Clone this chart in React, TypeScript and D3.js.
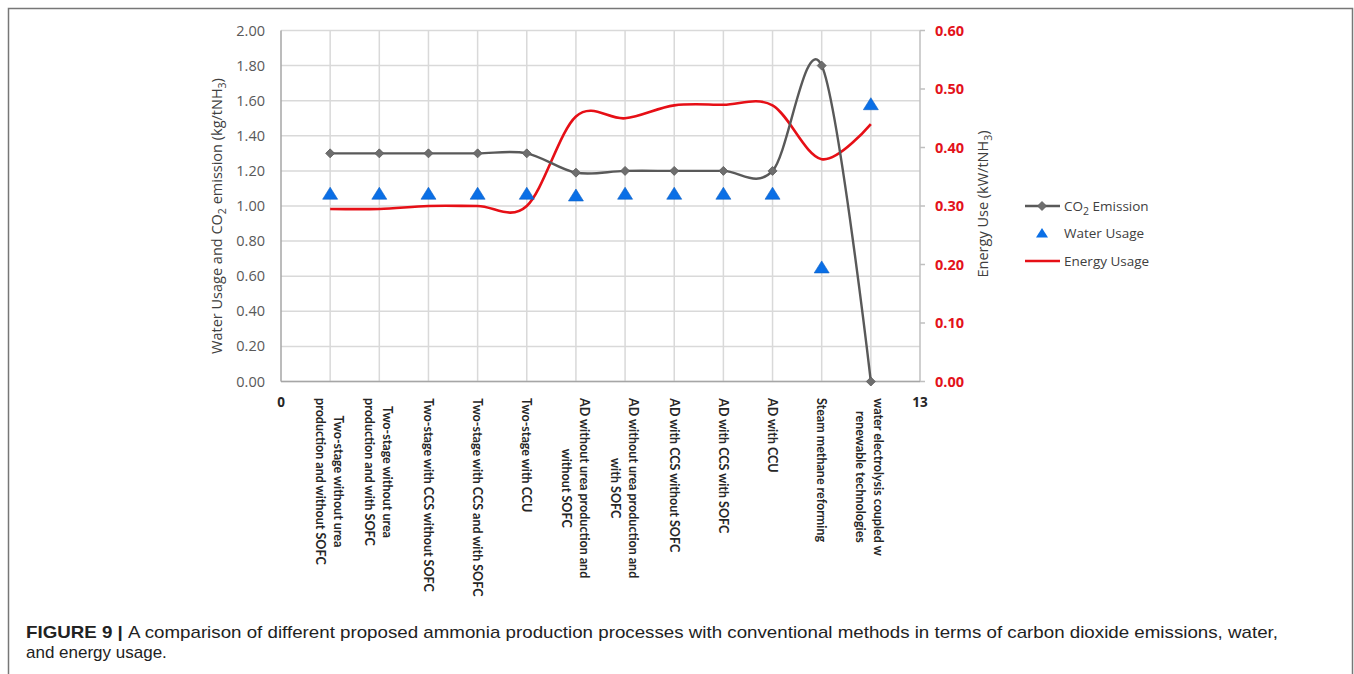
import React from "react";
import * as d3 from "d3";

const categories: string[] = [
  "Two-stage without urea\nproduction and without SOFC",
  "Two-stage without urea\nproduction and with SOFC",
  "Two-stage with CCS without SOFC",
  "Two-stage with CCS and with SOFC",
  "Two-stage with CCU",
  "AD without urea production and\nwithout SOFC",
  "AD without urea production and\nwith SOFC",
  "AD with CCS without SOFC",
  "AD with CCS with SOFC",
  "AD with CCU",
  "Steam methane reforming",
  "water electrolysis coupled w\nrenewable technologies",
];

const co2Emission: number[] = [1.3, 1.3, 1.3, 1.3, 1.3, 1.19, 1.2, 1.2, 1.2, 1.2, 1.8, 0.0];
const waterUsage: number[] = [1.07, 1.07, 1.07, 1.07, 1.07, 1.06, 1.07, 1.07, 1.07, 1.07, 0.65, 1.58];
const energyUsage: number[] = [0.295, 0.295, 0.3, 0.3, 0.3, 0.453, 0.45, 0.472, 0.473, 0.472, 0.38, 0.44];

const leftTicks: number[] = [0, 0.2, 0.4, 0.6, 0.8, 1.0, 1.2, 1.4, 1.6, 1.8, 2.0];
const rightTicks: number[] = [0, 0.1, 0.2, 0.3, 0.4, 0.5, 0.6];
const xEndLabels: number[] = [0, 13];

const captionBold = "FIGURE 9 | ";
const captionLine1 =
  "A comparison of different proposed ammonia production processes with conventional methods in terms of carbon dioxide emissions, water,";
const captionLine2 = "and energy usage.";

const W = 1354;
const H = 674;

const catFont = "bold 12.5px Lato";
let ctx: CanvasRenderingContext2D | null = null;
function measure(text: string, font: string): number {
  if (!ctx) ctx = document.createElement("canvas").getContext("2d");
  if (!ctx) return text.length * 6;
  ctx.font = font;
  return ctx.measureText(text).width;
}

export default function App() {
  const x = d3.scaleLinear().domain([0, 13]).range([281, 920]);
  const yL = d3.scaleLinear().domain([0, 2]).range([381.5, 30.5]);
  const yR = d3.scaleLinear().domain([0, 0.6]).range([381.5, 30.5]);

  const curve = d3.curveCardinal.tension(0);
  const co2Line = d3
    .line<number>()
    .x((_, i) => x(i + 1))
    .y((d) => yL(d))
    .curve(curve);
  const energyLine = d3
    .line<number>()
    .x((_, i) => x(i + 1))
    .y((d) => yR(d))
    .curve(curve);

  const gridColor = "#d9d9d9";
  const diamond = "M0,-4.5L4.5,0L0,4.5L-4.5,0Z";
  const triangle = "M0,-6.5L7.5,5.5L-7.5,5.5Z";
  const vLines = d3.range(1, 14);

  return (
    <svg
      width={W}
      height={H}
      style={{ position: "absolute", left: 0, top: 0, background: "#fff" }}
      fontFamily="'Open Sans', sans-serif"
    >
      <rect x={0} y={0} width={W} height={H} fill="#fff" />
      {/* outer frame */}
      <path d={`M8.5,${H + 5}V8.5H1352.5V${H + 5}`} fill="none" stroke="#777" strokeWidth={1.5} />

      {/* gridlines */}
      {leftTicks.map((t) => (
        <line key={"h" + t} x1={x(0)} x2={x(13)} y1={yL(t)} y2={yL(t)} stroke={gridColor} strokeWidth={1.5} />
      ))}
      {vLines.map((v) => (
        <line key={"v" + v} x1={x(v)} x2={x(v)} y1={yL(0)} y2={yL(2)} stroke={v === 13 ? "#bfbfbf" : gridColor} strokeWidth={1.5} />
      ))}
      {/* axes */}
      <line x1={x(0)} x2={x(0)} y1={yL(0)} y2={yL(2)} stroke="#a6a6a6" strokeWidth={1.5} />
      <line x1={x(0)} x2={x(13)} y1={yL(0)} y2={yL(0)} stroke="#a6a6a6" strokeWidth={1.5} />
      {rightTicks.map((t) => (
        <line key={"rt" + t} x1={x(13)} x2={x(13) + 5} y1={yR(t)} y2={yR(t)} stroke="#bfbfbf" strokeWidth={1.5} />
      ))}

      {/* left tick labels */}
      {leftTicks.map((t) => (
        <text key={"lt" + t} x={265} y={yL(t)} dy="0.35em" textAnchor="end" fontSize={14.5} fill="#595959">
          {d3.format(".2f")(t)}
        </text>
      ))}
      {/* right tick labels */}
      {rightTicks.map((t) => (
        <text key={"rl" + t} x={935} y={yR(t)} dy="0.35em" textAnchor="start" fontSize={14.5} fontWeight="bold" fill="#e3121b">
          {d3.format(".2f")(t)}
        </text>
      ))}
      {/* x end labels */}
      {xEndLabels.map((t) => (
        <text key={"xe" + t} x={x(t)} y={402} dy="0.35em" textAnchor="middle" fontSize={13.5} fontWeight="bold" fill="#262626">
          {t}
        </text>
      ))}

      {/* category labels */}
      {categories.map((c, i) => {
        const lines = c.split("\n");
        const maxW = d3.max(lines, (l) => measure(l, catFont)) || 0;
        const offs = lines.length === 1 ? [0] : [-8, 10];
        return (
          <g key={"c" + i} transform={`translate(${x(i + 1)},398) rotate(90)`}>
            {lines.map((l, j) => (
              <text
                key={j}
                x={maxW / 2}
                y={offs[j]}
                dy="0.35em"
                textAnchor="middle"
                fontFamily="Lato, sans-serif"
                fontWeight="bold"
                fontSize={12.5}
                fill="#262626"
              >
                {l}
              </text>
            ))}
          </g>
        );
      })}

      {/* axis titles */}
      <text transform={`translate(217,216) rotate(-90)`} textAnchor="middle" dy="0.35em" fontSize={14.5} fill="#404040">
        Water Usage and CO<tspan fontSize={10.5} dy={4}>2</tspan>
        <tspan dy={-4}> emission (kg/tNH</tspan>
        <tspan fontSize={10.5} dy={4}>3</tspan>
        <tspan dy={-4}>)</tspan>
      </text>
      <text transform={`translate(983,204) rotate(-90)`} textAnchor="middle" dy="0.35em" fontSize={14.5} fill="#404040">
        Energy Use (kW/tNH<tspan fontSize={10.5} dy={4}>3</tspan>
        <tspan dy={-4}>)</tspan>
      </text>

      {/* series */}
      <path d={energyLine(energyUsage) || ""} fill="none" stroke="#e60f16" strokeWidth={2.6} />
      <path d={co2Line(co2Emission) || ""} fill="none" stroke="#595959" strokeWidth={2.4} />
      {co2Emission.map((v, i) => (
        <path key={"d" + i} d={diamond} transform={`translate(${x(i + 1)},${yL(v)})`} fill="#6e6e6e" stroke="#5a5a5a" strokeWidth={0.8} />
      ))}
      {waterUsage.map((v, i) => (
        <path key={"t" + i} d={triangle} transform={`translate(${x(i + 1)},${yL(v)})`} fill="#0a6fe6" stroke="#0b5fc4" strokeWidth={0.6} />
      ))}

      {/* legend */}
      <g fontSize={13.5} fill="#404040">
        <line x1={1025} x2={1060} y1={206} y2={206} stroke="#595959" strokeWidth={2.4} />
        <path d={diamond} transform="translate(1042,206)" fill="#6e6e6e" stroke="#5a5a5a" strokeWidth={0.8} />
        <text x={1064} y={206} dy="0.35em">
          CO<tspan fontSize={10.5} dy={4}>2</tspan>
          <tspan dy={-4}> Emission</tspan>
        </text>
        <path d="M0,-5L6,4.5L-6,4.5Z" transform="translate(1042,233)" fill="#0a6fe6" />
        <text x={1064} y={233} dy="0.35em">
          Water Usage
        </text>
        <line x1={1025} x2={1060} y1={261} y2={261} stroke="#e60f16" strokeWidth={2.4} />
        <text x={1064} y={261} dy="0.35em">
          Energy Usage
        </text>
      </g>

      {/* caption */}
      <text x={26} y={638} fontFamily="'Liberation Sans', Arial, sans-serif" fontSize={17} fill="#222" textLength={1252} lengthAdjust="spacingAndGlyphs">
        <tspan fontWeight="bold">{captionBold}</tspan>
        {captionLine1}
      </text>
      <text x={26} y={658} fontFamily="'Liberation Sans', Arial, sans-serif" fontSize={17} fill="#222">
        {captionLine2}
      </text>
    </svg>
  );
}
